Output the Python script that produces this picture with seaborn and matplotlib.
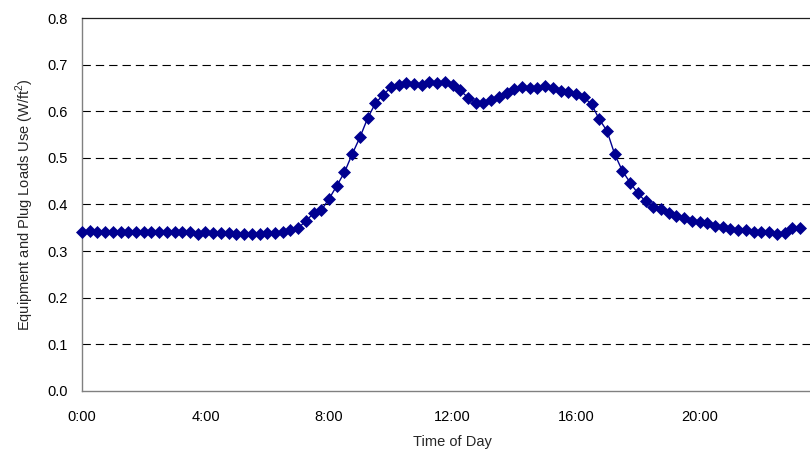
import matplotlib
matplotlib.use("Agg")
import matplotlib.pyplot as plt
import pandas as pd
import seaborn as sns

# equipment / plug loads profile, one reading every 15 minutes from 0:00
load = [
    0.342, 0.343, 0.340, 0.342, 0.340, 0.340, 0.340, 0.340,
    0.342, 0.340, 0.340, 0.340, 0.340, 0.340, 0.340, 0.337,
    0.340, 0.339, 0.338, 0.338, 0.336, 0.336, 0.336, 0.336,
    0.338, 0.339, 0.342, 0.345, 0.349, 0.365, 0.381, 0.388,
    0.412, 0.440, 0.469, 0.508, 0.544, 0.585, 0.617, 0.635,
    0.651, 0.656, 0.660, 0.658, 0.656, 0.662, 0.660, 0.663,
    0.656, 0.645, 0.629, 0.618, 0.618, 0.624, 0.631, 0.640,
    0.647, 0.653, 0.650, 0.650, 0.654, 0.650, 0.644, 0.642,
    0.638, 0.630, 0.615, 0.583, 0.558, 0.508, 0.472, 0.447,
    0.424, 0.407, 0.395, 0.390, 0.381, 0.375, 0.372, 0.365,
    0.362, 0.360, 0.354, 0.351, 0.347, 0.345, 0.345, 0.342,
    0.342, 0.342, 0.337, 0.339, 0.349, 0.349,
]
hours = [i * 0.25 for i in range(len(load))]

tick_hours = [0, 4, 8, 12, 16, 20]
tick_labels = ["0:00", "4:00", "8:00", "12:00", "16:00", "20:00"]

df = pd.DataFrame({"Hour": hours, "Load": load})

sns.set_theme(style="white")
plt.rcParams["font.family"] = ["Liberation Sans", "DejaVu Sans"]
plt.rcParams["mathtext.fontset"] = "custom"
plt.rcParams["mathtext.rm"] = "Liberation Sans"

fig = plt.figure(figsize=(8.10, 4.55), dpi=100)
# plot area runs on past the right edge (the original is cropped there)
ax = fig.add_axes([0.1012, 0.1407, 0.915, 0.8197])

ax.set_ylim(0, 0.8)
ax.set_xlim(0, 24)
ax.set_yticks([0.0, 0.1, 0.2, 0.3, 0.4, 0.5, 0.6, 0.7, 0.8])
ax.set_yticklabels([f"{v:.1f}" for v in ax.get_yticks()])
ax.set_xticks(tick_hours)
ax.set_xticklabels(tick_labels)

for v in [0.1, 0.2, 0.3, 0.4, 0.5, 0.6, 0.7]:
    ax.axhline(v, color="black", linewidth=0.8, linestyle=(0, (7.5, 4.5)), zorder=1)

sns.lineplot(
    data=df,
    x="Hour",
    y="Load",
    ax=ax,
    color="#000090",
    linewidth=1.0,
    marker="D",
    markersize=6,
    markeredgecolor="#000090",
    markeredgewidth=0.5,
    zorder=3,
    clip_on=False,
)

for side in ["left", "bottom"]:
    ax.spines[side].set_color("#808080")
    ax.spines[side].set_linewidth(1.0)
ax.spines["top"].set_color("#202020")
ax.spines["top"].set_linewidth(0.9)
ax.spines["right"].set_visible(False)

ax.tick_params(axis="both", which="major", direction="out", length=4.5,
               width=0.9, labelsize=10.5)
ax.tick_params(axis="x", pad=9)
ax.tick_params(axis="y", pad=6)
ax.tick_params(axis="both", colors="#808080", labelcolor="black")

ax.set_xlabel("Time of Day", fontsize=10.5, labelpad=8)
ax.set_ylabel("Equipment and Plug Loads Use (W/ft$^{2}$)", fontsize=10.5, labelpad=8)

fig.savefig("out.png", dpi=100)
plt.close(fig)
